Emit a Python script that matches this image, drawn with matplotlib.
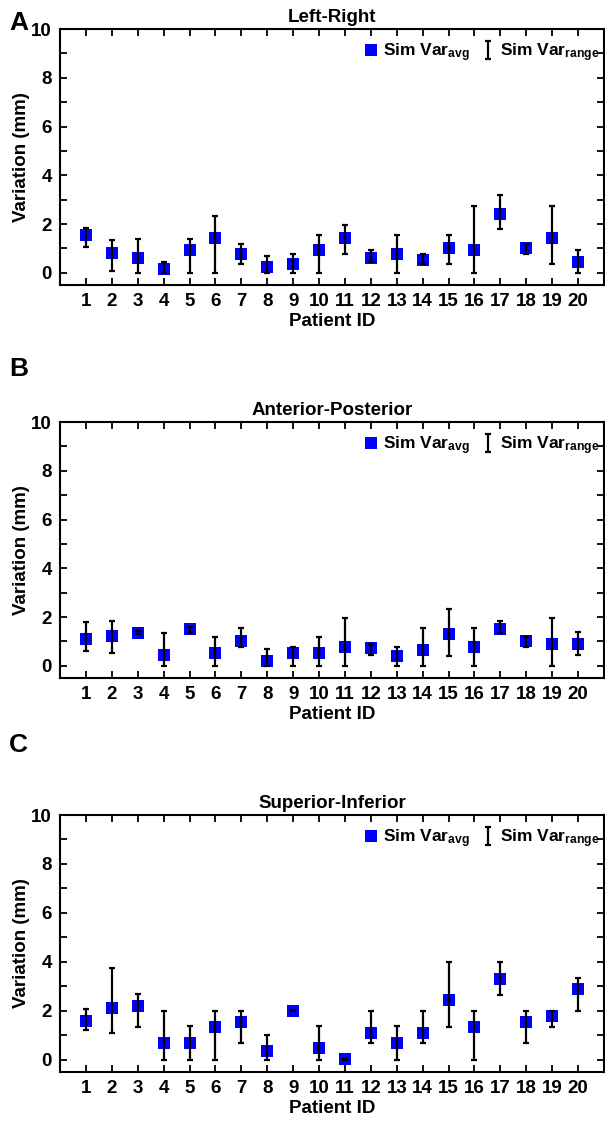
import numpy as np
import matplotlib
matplotlib.use('Agg')
import matplotlib.pyplot as plt
from matplotlib.ticker import MultipleLocator

plt.rcParams['font.family'] = ['Liberation Sans', 'DejaVu Sans']
plt.rcParams['font.weight'] = 'bold'
plt.rcParams['mathtext.fontset'] = 'custom'
plt.rcParams['mathtext.bf'] = 'Liberation Sans:bold'
plt.rcParams['mathtext.rm'] = 'Liberation Sans:bold'
plt.rcParams['mathtext.default'] = 'bf'

patients = list(range(1, 21))

# Left-Right
lr_avg = [1.54, 0.81, 0.60, 0.16, 0.92, 1.44, 0.77, 0.23, 0.38, 0.92,
          1.44, 0.60, 0.78, 0.52, 1.03, 0.92, 2.43, 1.02, 1.43, 0.44]
lr_min = [1.06, 0.07, 0.00, 0.00, 0.00, 0.00, 0.37, 0.00, 0.00, 0.00,
          0.77, 0.44, 0.00, 0.37, 0.38, 0.00, 1.80, 0.77, 0.38, 0.00]
lr_max = [1.84, 1.33, 1.37, 0.45, 1.37, 2.34, 1.17, 0.67, 0.77, 1.55,
          1.95, 0.92, 1.55, 0.77, 1.55, 2.74, 3.20, 1.17, 2.74, 0.92]

# Anterior-Posterior
ap_avg = [1.10, 1.22, 1.36, 0.45, 1.51, 0.52, 1.03, 0.20, 0.52, 0.52,
          0.77, 0.75, 0.39, 0.65, 1.30, 0.77, 1.52, 1.03, 0.91, 0.91]
ap_min = [0.61, 0.54, 1.29, 0.00, 1.36, 0.00, 0.77, 0.00, 0.00, 0.00,
          0.00, 0.45, 0.00, 0.00, 0.39, 0.00, 1.33, 0.77, 0.00, 0.45]
ap_max = [1.81, 1.83, 1.43, 1.36, 1.58, 1.17, 1.56, 0.68, 0.77, 1.17,
          1.96, 0.90, 0.77, 1.56, 2.34, 1.56, 1.82, 1.17, 1.96, 1.37]

# Superior-Inferior
si_avg = [1.60, 2.13, 2.21, 0.68, 0.68, 1.35, 1.55, 0.34, 2.00, 0.48,
          0.03, 1.11, 0.68, 1.11, 2.45, 1.35, 3.32, 1.56, 1.78, 2.88]
si_min = [1.20, 1.09, 1.33, 0.00, 0.00, 0.00, 0.68, 0.00, 1.98, 0.00,
          0.00, 0.68, 0.00, 0.68, 1.33, 0.00, 2.66, 0.68, 1.35, 2.00]
si_max = [2.08, 3.74, 2.68, 2.00, 1.36, 2.00, 2.00, 1.00, 2.02, 1.36,
          0.05, 2.00, 1.36, 2.00, 3.98, 2.00, 3.98, 2.00, 2.00, 3.33]

titles = ['Left-Right', 'Anterior-Posterior', 'Superior-Inferior']
letters = ['A', 'B', 'C']
panels = [(lr_avg, lr_min, lr_max), (ap_avg, ap_min, ap_max), (si_avg, si_min, si_max)]

W, H = 605, 1124
fig = plt.figure(figsize=(W / 100, H / 100), dpi=100)

# axes boxes in pixels: (top, bottom)
boxes = [(29, 285), (422, 678), (815, 1072)]
letter_y = [30, 376, 752]
left_px, right_px = 60, 604

for i, (avg, lo, hi) in enumerate(panels):
    top, bot = boxes[i]
    ax = fig.add_axes([left_px / W, 1 - bot / H, (right_px - left_px) / W, (bot - top) / H])
    avg = np.array(avg)
    lo = np.array(lo)
    hi = np.array(hi)

    ax.plot(patients, avg, 's', color='#0000ff', markersize=8, markeredgewidth=0,
            zorder=2, label='Sim Var$_{avg}$')
    ax.errorbar(patients, avg, yerr=[avg - lo, hi - avg], fmt='none', ecolor='black',
                elinewidth=1.6, capsize=2, capthick=1.6, zorder=3,
                label='Sim Var$_{range}$')

    ax.set_xlim(0, 21)
    ax.set_ylim(-0.5, 10)
    ax.set_xticks(patients)
    ax.yaxis.set_major_locator(MultipleLocator(2))
    ax.yaxis.set_minor_locator(MultipleLocator(1))
    ax.tick_params(which='both', direction='in', top=True, right=True,
                   labelsize=13.5, width=1.3, pad=6)
    ax.tick_params(which='major', length=5)
    ax.tick_params(which='minor', length=5)
    for s in ax.spines.values():
        s.set_linewidth(1.5)

    ax.set_title(titles[i], fontsize=13.5, fontweight='bold', pad=5)
    ax.set_xlabel('Patient ID', fontsize=13.5, fontweight='bold', labelpad=2)
    ax.set_ylabel('Variation (mm)', fontsize=13.5, fontweight='bold', labelpad=1)

    ax.legend(loc='upper right', ncol=2, frameon=False, fontsize=12.5,
              bbox_to_anchor=(1.015, 1.0), handlelength=0.7, handletextpad=0.35,
              columnspacing=0.7, borderaxespad=0.3)

    fig.text(0.015, 1 - letter_y[i] / H, letters[i], fontsize=19, fontweight='bold',
             va='baseline', ha='left')

fig.savefig('out.png', dpi=100)
